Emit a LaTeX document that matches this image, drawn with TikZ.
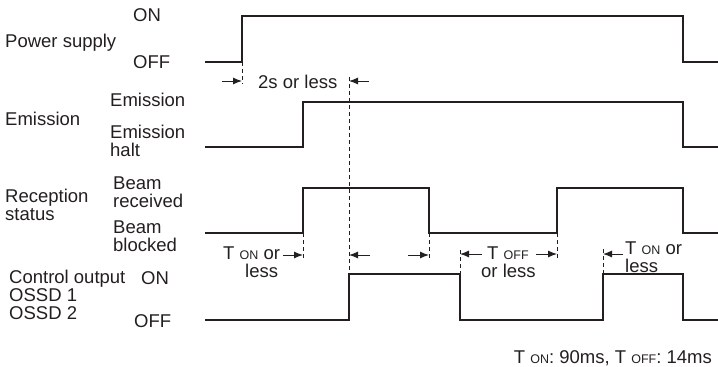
\documentclass[tikz,border=0pt]{standalone}
\usepackage{fontspec}
\setmainfont{Liberation Sans}
\usetikzlibrary{arrows.meta}
\definecolor{ink}{HTML}{231F20}
\newcommand\smc[1]{{\fontsize{12.5}{12.5}\selectfont #1}}
\begin{document}
\begin{tikzpicture}[x=1pt,y=-1pt,
  wave/.style={draw=ink,line width=1.2pt,line join=miter},
  guide/.style={draw=ink,line width=1pt,dash pattern=on 4pt off 3pt},
  dim/.style={draw=ink,line width=1pt,-{Latex[length=9pt,width=7pt]}},
  lbl/.style={inner sep=0pt,anchor=base west,text=ink,font=\fontsize{18.5}{18.5}\selectfont},
  lblr/.style={lbl,anchor=base east}]
\useasboundingbox (0,0) rectangle (718,367);
% waveforms
\draw[wave] (205,62) -- (242,62) -- (242,16) -- (683,16) -- (683,62) -- (718,62);
\draw[wave] (205,147) -- (303,147) -- (303,102) -- (683,102) -- (683,147) -- (718,147);
\draw[wave] (205,233) -- (303,233) -- (303,188) -- (429,188) -- (429,233) -- (557,233) -- (557,188) -- (683,188) -- (683,233) -- (718,233);
\draw[wave] (205,320) -- (349,320) -- (349,274) -- (460,274) -- (460,320) -- (603,320) -- (603,274) -- (683,274) -- (683,320) -- (718,320);
% guide coordinates
\coordinate (g1t) at (242,62);  \coordinate (g1b) at (242,84);
\coordinate (g2t) at (349,77);  \coordinate (g2b) at (349,274);
\coordinate (g3t) at (303,233); \coordinate (g3b) at (303,258);
\coordinate (g4t) at (429,233); \coordinate (g4b) at (429,258);
\coordinate (g5t) at (460,250); \coordinate (g5b) at (460,274);
\coordinate (g6t) at (557,233); \coordinate (g6b) at (557,258);
\coordinate (g7t) at (603,249); \coordinate (g7b) at (603,274);
\foreach \g in {g1,g2,g3,g4,g5,g6,g7} \draw[guide] (\g t) -- (\g b);
% dimension arrows
\coordinate (a1s) at (222,81); \coordinate (a1e) at (242,81);
\coordinate (a2s) at (369,81); \coordinate (a2e) at (349,81);
\coordinate (a3s) at (283,255); \coordinate (a3e) at (303,255);
\coordinate (a4s) at (370,255); \coordinate (a4e) at (349,255);
\coordinate (a5s) at (408,255); \coordinate (a5e) at (429,255);
\coordinate (a6s) at (482,254); \coordinate (a6e) at (460,254);
\coordinate (a7s) at (536,254); \coordinate (a7e) at (557,254);
\coordinate (a8s) at (623,254); \coordinate (a8e) at (603,254);
\foreach \a in {a1,a2,a3,a4,a5,a6,a7,a8} \draw[dim] (\a s) -- (\a e);
% left labels
\node[lbl] (on1) at (133,21) {ON};
\node[lbl] (ps) at (5,47) {Power supply};
\node[lbl] (off1) at (133,68) {OFF};
\node[lbl] (em1) at (110,106) {Emission};
\node[lbl] (em) at (5,125) {Emission};
\node[lbl] (em2) at (110,138) {Emission};
\node[lbl] (em3) at (110,156) {halt};
\node[lbl] (rs1) at (5,202) {Reception};
\node[lbl] (rs2) at (5,220) {status};
\node[lbl] (br1) at (113,189) {Beam};
\node[lbl] (br2) at (113,207) {received};
\node[lbl] (bb1) at (113,233) {Beam};
\node[lbl] (bb2) at (113,251) {blocked};
\node[lbl] (co1) at (9,283) {Control output};
\node[lbl] (co2) at (9,301) {OSSD 1};
\node[lbl] (co3) at (9,319) {OSSD 2};
\node[lbl] (on2) at (141,284) {ON};
\node[lbl] (off2) at (134,327) {OFF};
% timing labels
\node[lbl] (t2s) at (258,88) {2s or less};
\node[lbl] (ton1a) at (223,259) {T \smc{ON} or};
\node[lbl] (ton1b) at (245,277) {less};
\node[lbl] (toffa) at (487,259) {T \smc{OFF}};
\node[lbl] (toffb) at (481,277) {or less};
\node[lbl] (ton2a) at (625,254) {T \smc{ON} or};
\node[lbl] (ton2b) at (625,272) {less};
\node[lblr] (note) at (712,363) {T \smc{ON}: 90ms, T \smc{OFF}: 14ms};
\end{tikzpicture}
\end{document}
